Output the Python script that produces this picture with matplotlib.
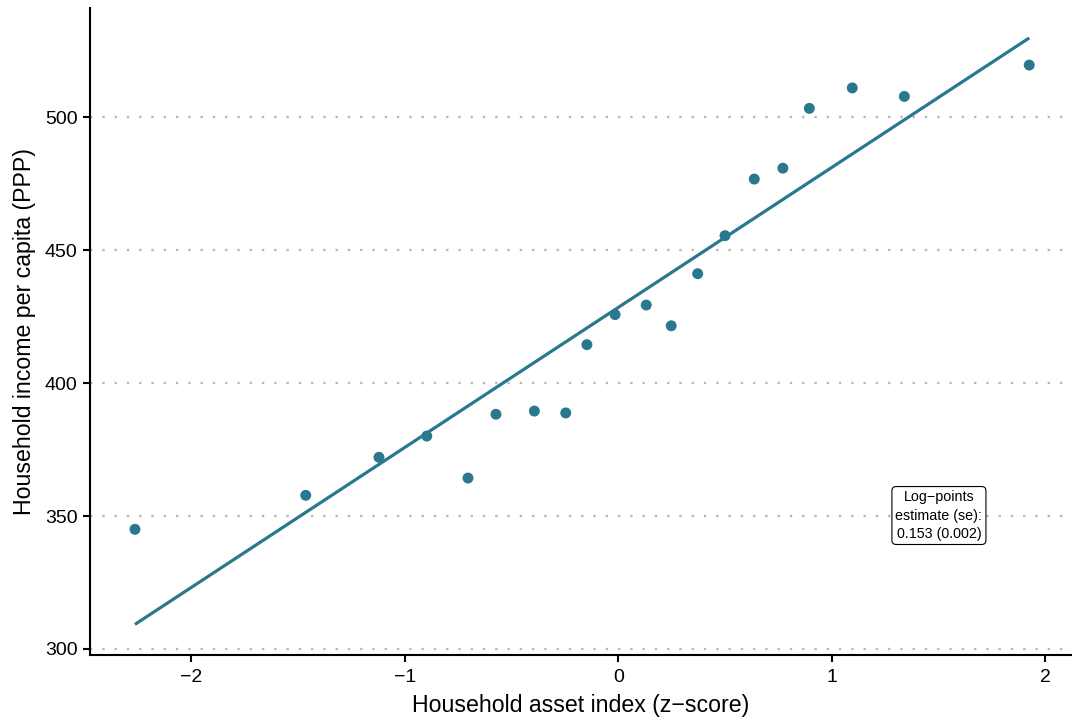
import numpy as np
import matplotlib
matplotlib.use("Agg")
import matplotlib.pyplot as plt

plt.rcParams['font.family'] = ['Liberation Sans', 'DejaVu Sans']

# Binned means: asset index bin centre vs. mean income per capita
asset_z = [-2.264, -1.464, -1.121, -0.897, -0.704, -0.573, -0.393, -0.246,
           -0.147, -0.015, 0.131, 0.248, 0.372, 0.500, 0.637, 0.771,
           0.895, 1.096, 1.340, 1.925]
income_ppp = [345.0, 357.8, 372.1, 380.1, 364.3, 388.3, 389.5, 388.8,
              414.5, 425.8, 429.4, 421.6, 441.2, 455.5, 476.8, 480.9,
              503.4, 511.1, 507.9, 519.7]

# Fitted line
fit_intercept = 428.5
fit_slope = 52.68

estimate_text = "Log\u2212points\nestimate (se):\n0.153 (0.002)"
y_ticks = [300, 350, 400, 450, 500]
x_ticks = [-2, -1, 0, 1, 2]

teal = "#2a788e"

fig = plt.figure(figsize=(10.73, 7.21), dpi=100)
ax = fig.add_axes([0.084, 0.0915, 0.914, 0.8975])

xs = np.array([min(asset_z), max(asset_z)])
ax.plot(xs, fit_intercept + fit_slope * xs, color=teal, lw=2.3,
        solid_capstyle='butt', zorder=3)
ax.scatter(asset_z, income_ppp, s=62, color=teal, edgecolors='none', zorder=4)

ax.text(1.502, 350.2, estimate_text, ha='center', va='center', fontsize=10.3,
        linespacing=1.4, zorder=5,
        bbox=dict(boxstyle='round,pad=0.25,rounding_size=0.3', fc='white',
                  ec='black', lw=0.8))

ax.set_xlim(-2.474, 2.12)
ax.set_ylim(297.7, 541.2)
ax.set_xticks(x_ticks)
ax.set_xticklabels([f"{t}".replace('-', '\u2212') for t in x_ticks])
ax.set_yticks(y_ticks)

for y in y_ticks:
    ax.axhline(y, color='#b8b8b8', lw=1.7, linestyle=(0, (1, 4.2)), zorder=1)

for side in ['top', 'right']:
    ax.spines[side].set_visible(False)
for side in ['left', 'bottom']:
    ax.spines[side].set_linewidth(1.5)
    ax.spines[side].set_color('black')

ax.tick_params(axis='x', length=5, width=1.5, color='black',
               labelsize=14, labelcolor='black', pad=5)
ax.tick_params(axis='y', length=5, width=1.5, color='black',
               labelsize=14, labelcolor='black', pad=4)

ax.set_xlabel("Household asset index (z\u2212score)", fontsize=16.7, labelpad=6)
ax.set_ylabel("Household income per capita (PPP)", fontsize=16.7, labelpad=6.5)

fig.savefig("out.png", dpi=100)
